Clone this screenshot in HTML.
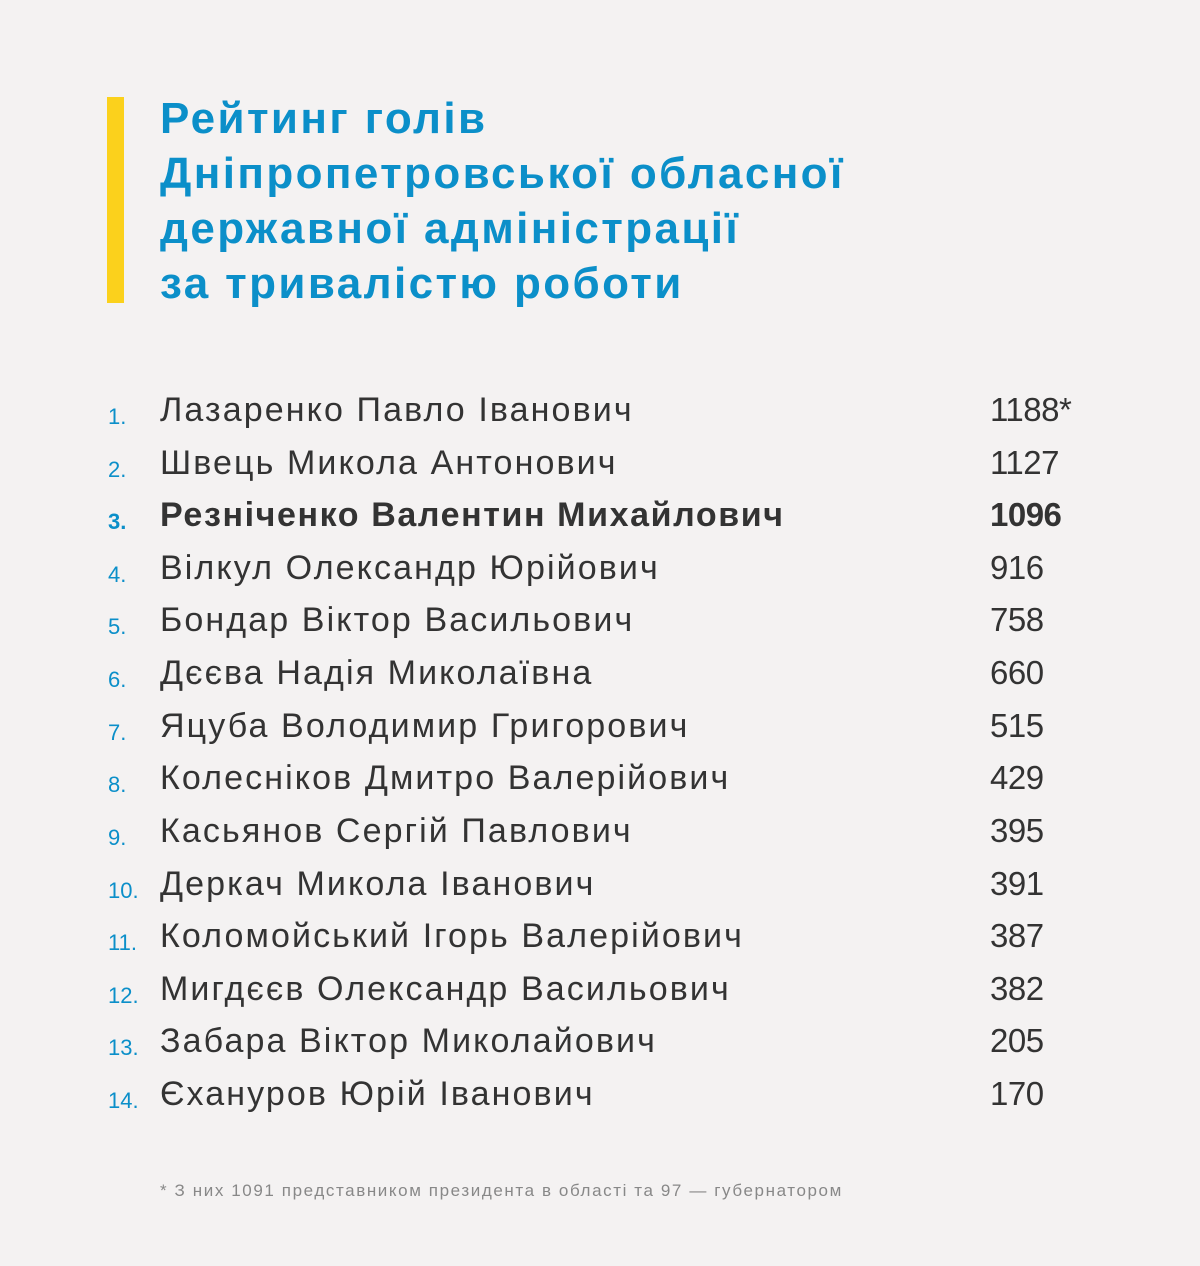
<!DOCTYPE html>
<html><head><meta charset="utf-8"><style>
body{margin:0;width:1200px;height:1266px;background:#f4f2f2;position:relative;font-family:"Liberation Sans",sans-serif;overflow:hidden}
.bar{position:absolute;left:107px;top:97px;width:17px;height:206px;background:#fbd11c}
.t{position:absolute;left:160px;color:#0b8fc9;font-weight:bold;font-size:44px;letter-spacing:2.4px;line-height:55px;top:91px;white-space:nowrap}
.r{position:absolute;left:0;height:52px;width:1200px;color:#333;white-space:nowrap}
.r .i{position:absolute;left:108px;top:14px;font-size:22px;color:#0b8fc9}
.r .n{position:absolute;left:160px;top:0;font-size:34px;line-height:40px;letter-spacing:2.1px}
.r .v{position:absolute;left:990px;top:0;font-size:33px;line-height:40px;letter-spacing:-0.5px}
.b .n{letter-spacing:1.6px}
.b .n,.b .v,.b .i{font-weight:bold}
.f{position:absolute;left:160px;top:1181px;font-size:17px;color:#888;letter-spacing:1.6px}
</style></head><body>
<div class="bar"></div>
<div class="t">Рейтинг голів<br>Дніпропетровської обласної<br>державної адміністрації<br>за тривалістю роботи</div>
<div class="r" style="top:390px"><span class="i">1.</span><span class="n">Лазаренко Павло Іванович</span><span class="v">1188*</span></div>
<div class="r" style="top:443px"><span class="i">2.</span><span class="n">Швець Микола Антонович</span><span class="v">1127</span></div>
<div class="r b" style="top:495px"><span class="i">3.</span><span class="n">Резніченко Валентин Михайлович</span><span class="v">1096</span></div>
<div class="r" style="top:548px"><span class="i">4.</span><span class="n">Вілкул Олександр Юрійович</span><span class="v">916</span></div>
<div class="r" style="top:600px"><span class="i">5.</span><span class="n">Бондар Віктор Васильович</span><span class="v">758</span></div>
<div class="r" style="top:653px"><span class="i">6.</span><span class="n">Дєєва Надія Миколаївна</span><span class="v">660</span></div>
<div class="r" style="top:706px"><span class="i">7.</span><span class="n">Яцуба Володимир Григорович</span><span class="v">515</span></div>
<div class="r" style="top:758px"><span class="i">8.</span><span class="n">Колесніков Дмитро Валерійович</span><span class="v">429</span></div>
<div class="r" style="top:811px"><span class="i">9.</span><span class="n">Касьянов Сергій Павлович</span><span class="v">395</span></div>
<div class="r" style="top:864px"><span class="i">10.</span><span class="n">Деркач Микола Іванович</span><span class="v">391</span></div>
<div class="r" style="top:916px"><span class="i">11.</span><span class="n">Коломойський Ігорь Валерійович</span><span class="v">387</span></div>
<div class="r" style="top:969px"><span class="i">12.</span><span class="n">Мигдєєв Олександр Васильович</span><span class="v">382</span></div>
<div class="r" style="top:1021px"><span class="i">13.</span><span class="n">Забара Віктор Миколайович</span><span class="v">205</span></div>
<div class="r" style="top:1074px"><span class="i">14.</span><span class="n">Єхануров Юрій Іванович</span><span class="v">170</span></div>
<div class="f">* З них 1091 представником президента в області та 97 — губернатором</div>
</body></html>
